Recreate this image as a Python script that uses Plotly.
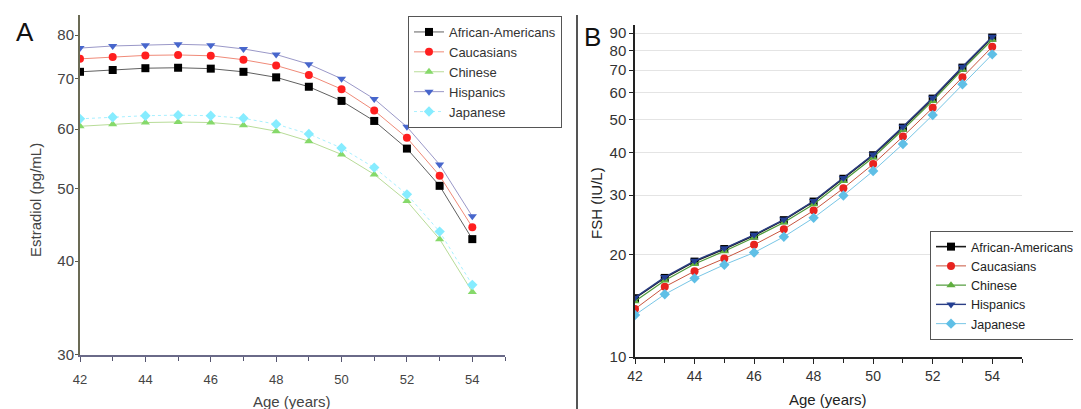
import plotly.graph_objects as go

ages = [42, 43, 44, 45, 46, 47, 48, 49, 50, 51, 52, 53, 54]
groups = ["African-Americans", "Caucasians", "Chinese", "Hispanics", "Japanese"]

# Panel A: Estradiol (pg/mL)
e2_african_americans = [71.5, 71.9, 72.3, 72.4, 72.2, 71.5, 70.3, 68.3, 65.4, 61.5, 56.5, 50.4, 42.8]
e2_caucasians = [74.4, 74.8, 75.2, 75.3, 75.1, 74.2, 72.9, 70.8, 67.8, 63.5, 58.4, 52.0, 44.4]
e2_chinese = [60.5, 60.9, 61.2, 61.3, 61.2, 60.7, 59.6, 57.8, 55.5, 52.2, 48.1, 42.8, 36.4]
e2_hispanics = [76.9, 77.4, 77.6, 77.8, 77.6, 76.7, 75.4, 73.2, 70.0, 65.8, 60.4, 53.8, 45.9]
e2_japanese = [61.9, 62.2, 62.5, 62.6, 62.5, 62.0, 60.9, 59.1, 56.6, 53.3, 49.1, 43.8, 37.2]

# Panel B: FSH (IU/L)
fsh_african_americans = [14.9, 17.1, 19.1, 20.8, 22.8, 25.3, 28.7, 33.5, 39.3, 47.4, 57.7, 71.2, 87.3]
fsh_caucasians = [13.85, 16.1, 17.9, 19.5, 21.4, 23.8, 27.0, 31.4, 37.0, 44.6, 54.2, 66.7, 82.0]
fsh_chinese = [14.6, 16.8, 18.8, 20.5, 22.5, 24.9, 28.2, 33.0, 38.7, 46.7, 56.8, 70.2, 86.0]
fsh_hispanics = [14.95, 17.2, 19.2, 20.9, 22.9, 25.4, 28.8, 33.7, 39.5, 47.7, 58.0, 71.6, 87.8]
fsh_japanese = [13.3, 15.3, 17.05, 18.7, 20.3, 22.6, 25.7, 29.9, 35.3, 42.4, 51.6, 63.6, 77.9]

e2_ticks = [30, 40, 50, 60, 70, 80]
fsh_ticks = [10, 20, 30, 40, 50, 60, 70, 80, 90]
x_ticks = [42, 44, 46, 48, 50, 52, 54]

e2_series = [e2_african_americans, e2_caucasians, e2_chinese, e2_hispanics, e2_japanese]
fsh_series = [fsh_african_americans, fsh_caucasians, fsh_chinese, fsh_hispanics, fsh_japanese]

symbols = ["square", "circle", "triangle-up", "triangle-down", "diamond"]
a_marker = ["#000000", "#ff1f1f", "#86d96a", "#4766cc", "#86ecff"]
a_line = ["#606060", "#f08a78", "#b8dc98", "#9a98c8", "#a8f0ff"]
a_dash = ["solid", "solid", "solid", "solid", "dot"]
b_marker = ["#000000", "#e8231f", "#5fae3e", "#233f93", "#5fbfe6"]
b_line = ["#1a1a1a", "#c8553f", "#4f9a3a", "#2b3f86", "#78c6e6"]
b_width = [1.6, 1.0, 1.2, 1.4, 1.0]

fig = go.Figure()

for name, vals, sym, mc, lc, dash in zip(groups, e2_series, symbols, a_marker, a_line, a_dash):
    fig.add_trace(go.Scatter(
        x=ages, y=vals, name=name, mode="lines+markers",
        line=dict(color=lc, width=1, dash=dash),
        marker=dict(symbol=sym, size=8, color=mc),
        xaxis="x", yaxis="y", legend="legend",
    ))

for name, vals, sym, mc, lc, w in zip(groups, fsh_series, symbols, b_marker, b_line, b_width):
    fig.add_trace(go.Scatter(
        x=ages, y=vals, name=name, mode="lines+markers",
        line=dict(color=lc, width=w),
        marker=dict(symbol=sym, size=8, color=mc),
        xaxis="x2", yaxis="y2", legend="legend2",
    ))

# page body has an 8px margin: figure occupies page pixels [8, 1081] x [8, 409]
OFF = 8
W, H = 1081 - OFF, 409 - OFF
def px(x):
    return (x - OFF) / W
def py(y):
    return (H - (y - OFF)) / H

font = "Liberation Sans, Arial, sans-serif"

fig.update_layout(
    width=W, height=H,
    margin=dict(l=0, r=0, t=0, b=0, autoexpand=False),
    paper_bgcolor="white", plot_bgcolor="white",
    font=dict(family=font, size=13, color="#333333"),
    showlegend=True,
    xaxis=dict(
        domain=[px(80), px(505)], range=[42, 55], anchor="y", automargin=False,
        tickvals=x_ticks, ticks="outside", ticklen=5, tickcolor="#555570",
        ticklabelstandoff=6,
        showline=True, linecolor="#6a6a88", linewidth=2,
        showgrid=False, zeroline=False,
        tickfont=dict(size=13, color="#444444"),
        minor=dict(dtick=1, tick0=42, ticks="outside", ticklen=4, tickcolor="#555570", showgrid=False),
    ),
    yaxis=dict(
        domain=[py(355), py(15)], type="log", range=[1.4771, 1.93], anchor="x", automargin=False,
        tickvals=e2_ticks, ticktext=[str(t) for t in e2_ticks],
        ticks="outside", ticklen=3, tickcolor="#5a5a48",
        ticklabelstandoff=-2,
        showline=True, linecolor="#6b6b55", linewidth=2,
        showgrid=False, zeroline=False,
        tickfont=dict(size=15, color="#444444"),
    ),
    xaxis2=dict(
        domain=[px(635), px(1022)], range=[42, 55], anchor="y2", automargin=False,
        tickvals=x_ticks, ticks="outside", ticklen=5, tickcolor="#222222",
        showline=True, linecolor="#222222", linewidth=1.5,
        showgrid=False, zeroline=False,
        tickfont=dict(size=14, color="#333333"),
        minor=dict(dtick=1, tick0=42, ticks="outside", ticklen=4, tickcolor="#222222", showgrid=False),
    ),
    yaxis2=dict(
        domain=[py(357), py(25)], type="log", range=[1.0, 1.978], anchor="x2", automargin=False,
        tickvals=fsh_ticks, ticktext=[str(t) for t in fsh_ticks],
        ticks="outside", ticklen=4, tickcolor="#222222",
        showline=True, linecolor="#222222", linewidth=1.5,
        showgrid=True, gridcolor="#e4e4e4", gridwidth=1, zeroline=False,
        tickfont=dict(size=15, color="#333333"),
    ),
    legend=dict(
        x=px(408), y=py(16), xanchor="left", yanchor="top",
        bgcolor="white", bordercolor="#555555", borderwidth=1,
        font=dict(size=13, color="#333333", family=font),
        tracegroupgap=0, itemwidth=30,
    ),
    legend2=dict(
        x=px(930), y=py(231), xanchor="left", yanchor="top",
        bgcolor="white", bordercolor="#555555", borderwidth=1,
        font=dict(size=12.5, color="#222222", family=font),
        tracegroupgap=0, itemwidth=30,
    ),
)

def label(text, x, y, size, color, angle=0):
    fig.add_annotation(text=text, x=px(x), y=py(y), xref="paper", yref="paper",
                       xanchor="center", yanchor="middle", textangle=angle,
                       showarrow=False, font=dict(size=size, color=color, family=font))

label("A", 25, 32, 26, "#111111")
label("B", 592, 37, 26, "#111111")
label("Estradiol (pg/mL)", 35, 200, 15, "#444444", -90)
label("FSH (IU/L)", 596, 203, 15, "#222222", -90)
label("Age (years)", 292, 401, 15, "#444444")
label("Age (years)", 828, 399, 15, "#222222")

# divider between panels
fig.add_shape(type="line", xref="paper", yref="paper",
              x0=px(577), x1=px(577), y0=0, y1=py(15),
              line=dict(color="#555555", width=2))

fig.write_html("out.html")
